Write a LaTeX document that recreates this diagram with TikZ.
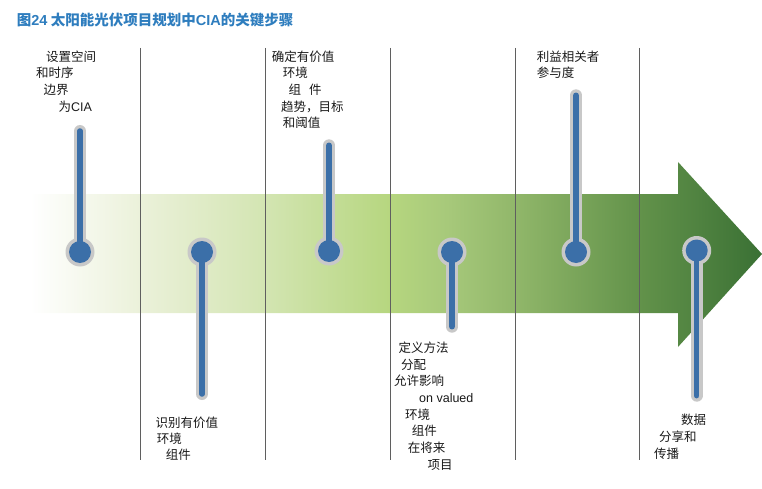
\documentclass[tikz,border=0pt]{standalone}
\usepackage{fontspec}
\setmainfont{Noto Sans CJK SC}
\newfontfamily\latn{Liberation Sans}
\definecolor{titleblue}{RGB}{46,125,190}
\definecolor{pinblue}{RGB}{59,111,168}
\definecolor{pingray}{RGB}{200,200,200}
\definecolor{divgray}{RGB}{95,95,95}
\definecolor{txt}{RGB}{25,25,25}
\definecolor{g0}{HTML}{FFFFFF}
\definecolor{g1}{HTML}{FFFFFF}
\definecolor{g2}{HTML}{EBF1DA}
\definecolor{g3}{HTML}{D3E5B2}
\definecolor{g4}{HTML}{B6D67F}
\definecolor{g5}{HTML}{A6C87A}
\definecolor{g6}{HTML}{91B76A}
\definecolor{g7}{HTML}{62924A}
\definecolor{g8}{HTML}{4F8240}
\definecolor{g9}{HTML}{3A7034}
\tikzset{
  lbl/.style={anchor=base west, inner sep=0pt, font=\fontsize{12.5}{15}\selectfont, text=txt},
  ttl/.style={anchor=base west, inner sep=0pt, font=\fontsize{14.5}{17}\selectfont\bfseries, text=titleblue},
  divider/.style={draw=divgray, line width=0.8pt},
}
\begin{document}
\begin{tikzpicture}[x=1pt,y=-1pt]
\useasboundingbox (0,0) rectangle (762,489);
% title
\node[ttl] (title) at (16.7,26) {图{\latn 24} 太阳能光伏项目规划中{\latn CIA}的关键步骤};
% arrow
\begin{scope}
\clip (0,194) -- (678,194) -- (678,162) -- (762,254) -- (678,347) -- (678,313) -- (0,313) -- cycle;
\foreach \xa/\xb/\ca/\cb in {0/30/g0/g1, 30/140/g1/g2, 140/265/g2/g3, 265/390/g3/g4, 390/450/g4/g5, 450/515/g5/g6, 515/640/g6/g7, 640/700/g7/g8, 700/762/g8/g9}
  \shade[left color=\ca, right color=\cb] (\xa-0.4,150) rectangle (\xb+0.4,360);
\end{scope}
% dividers
\foreach \dx in {140,265.5,390.5,515,639.5}
  \draw[divider] (\dx,48) -- (\dx,460);
% pins
\foreach \px/\py/\ey in {80/252/131, 202/252/394, 329/251/145.3, 452/252/326.7, 576/252/95.3, 696.7/250.5/395.7}{
  \draw[pingray, line width=12pt, line cap=round] (\px,\py) -- (\px,\ey);
  \fill[pingray] (\px,\py) circle (14.5);
  \draw[pinblue, line width=5.5pt, line cap=round] (\px,\py) -- (\px,\ey);
  \fill[pinblue] (\px,\py) circle (11);
}
% labels, step 1
\node[lbl] (a1) at (46,61.4) {设置空间};
\node[lbl] (a2) at (36,78) {和时序};
\node[lbl] (a3) at (43.3,94.7) {边界};
\node[lbl] (a4) at (58.3,111.4) {为{\latn CIA}};
% step 2
\node[lbl] (b1) at (155.3,427.4) {识别有价值};
\node[lbl] (b2) at (156.7,443.7) {环境};
\node[lbl] (b3) at (165.7,459.7) {组件};
% step 3
\node[lbl] (c1) at (271.7,61.4) {确定有价值};
\node[lbl] (c2) at (282.7,78) {环境};
\node[lbl] (c3) at (288.3,94.7) {组\hspace{8pt}件};
\node[lbl] (c4) at (281,111.4) {趋势，目标};
\node[lbl] (c5) at (282.7,128) {和阈值};
% step 4
\node[lbl] (d1) at (398.3,352.4) {定义方法};
\node[lbl] (d2) at (401,369) {分配};
\node[lbl] (d3) at (394,385.7) {允许影响};
\node[lbl] (d4) at (419,402.4) {\latn on valued};
\node[lbl] (d5) at (405,419) {环境};
\node[lbl] (d6) at (411.7,435.7) {组件};
\node[lbl] (d7) at (407.7,452.4) {在将来};
\node[lbl] (d8) at (427.3,469) {项目};
% step 5
\node[lbl] (e1) at (536.7,61.4) {利益相关者};
\node[lbl] (e2) at (536.7,78) {参与度};
% step 6
\node[lbl] (f1) at (681,424.7) {数据};
\node[lbl] (f2) at (659,441.4) {分享和};
\node[lbl] (f3) at (654,458) {传播};
\end{tikzpicture}
\end{document}
